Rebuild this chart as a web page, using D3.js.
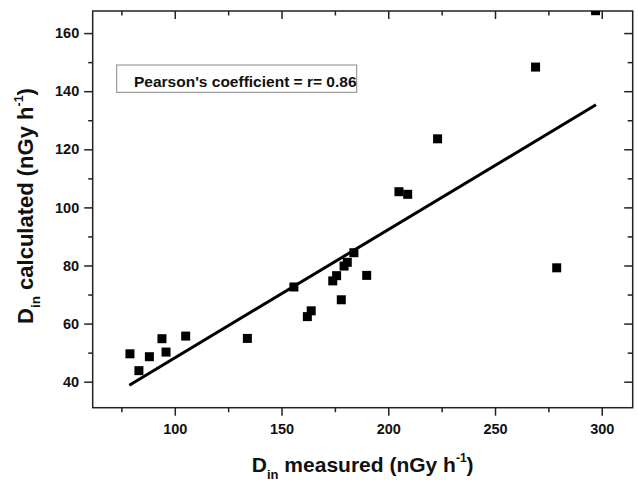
<!DOCTYPE html>
<html>
<head>
<meta charset="utf-8">
<script src="https://cdn.jsdelivr.net/npm/d3@7"></script>
<style>
  html, body { margin: 0; padding: 0; background: #fff; }
  svg { display: block; }
  text { font-family: Arial, "Liberation Sans", sans-serif; font-weight: bold; fill: #111; }
</style>
</head>
<body>
<svg id="chart" width="638" height="480"></svg>
<script>
// ---- data ----
const xMeasured   = [79.0, 83.2, 88.1, 94.0, 95.9, 105.1, 134.0, 155.8, 162.1, 163.9, 174.0, 175.8, 179.3, 180.8, 183.9, 178.0, 189.9, 205.0, 209.1, 223.1, 278.9, 269.0, 297.1];
const yCalculated = [49.6, 43.8, 48.6, 54.8, 50.2, 55.7, 54.9, 72.6, 62.4, 64.4, 74.7, 76.5, 79.8, 81.1, 84.4, 68.2, 76.6, 105.4, 104.5, 123.6, 79.2, 148.3, 167.7];
const fitX = [78.7, 297.3];
const fitY = [38.8, 135.3];
const xTicks = [100, 150, 200, 250, 300];
const xMinorTicks = [75, 125, 175, 225, 275];
const yTicks = [40, 60, 80, 100, 120, 140, 160];
const yMinorTicks = [50, 70, 90, 110, 130, 150];
const annotation = "Pearson's coefficient = r= 0.86";

// ---- layout ----
const L = 92.7, R = 632.7, T = 11, B = 407.7;
const x = d3.scaleLinear().domain([61.55, 314.5]).range([L, R]);
const y = d3.scaleLinear().domain([31.05, 167.6]).range([B, T]);

const svg = d3.select("#chart");

svg.append("defs").append("clipPath").attr("id", "plotclip")
  .append("rect").attr("x", L).attr("y", T).attr("width", R - L).attr("height", B - T);

function styleAxis(g) {
  g.select(".domain").remove();
  g.selectAll(".tick line").attr("stroke", "#222").attr("stroke-width", 1.5);
}

// bottom axis (outward ticks, labels)
svg.append("g").attr("transform", `translate(0,${B})`)
  .call(d3.axisBottom(x).tickValues(xTicks).tickSize(8).tickPadding(8).tickFormat(d3.format("d")))
  .call(styleAxis)
  .call(g => g.selectAll("text").attr("font-size", 14.5).attr("font-family", "Arial, 'Liberation Sans', sans-serif").attr("font-weight", "bold").attr("fill", "#111"));
svg.append("g").attr("transform", `translate(0,${B})`)
  .call(d3.axisBottom(x).tickValues(xMinorTicks).tickSize(4.5).tickFormat(""))
  .call(styleAxis);

// top axis (inward ticks)
svg.append("g").attr("transform", `translate(0,${T})`)
  .call(d3.axisTop(x).tickValues(xTicks).tickSize(-8).tickFormat(""))
  .call(styleAxis);
svg.append("g").attr("transform", `translate(0,${T})`)
  .call(d3.axisTop(x).tickValues(xMinorTicks).tickSize(-4.5).tickFormat(""))
  .call(styleAxis);

// left axis (outward ticks, labels)
svg.append("g").attr("transform", `translate(${L},0)`)
  .call(d3.axisLeft(y).tickValues(yTicks).tickSize(8.5).tickPadding(5).tickFormat(d3.format("d")))
  .call(styleAxis)
  .call(g => g.selectAll("text").attr("font-size", 14.5).attr("font-family", "Arial, 'Liberation Sans', sans-serif").attr("font-weight", "bold").attr("fill", "#111"));
svg.append("g").attr("transform", `translate(${L},0)`)
  .call(d3.axisLeft(y).tickValues(yMinorTicks).tickSize(4.5).tickFormat(""))
  .call(styleAxis);

// right axis (inward ticks)
svg.append("g").attr("transform", `translate(${R},0)`)
  .call(d3.axisRight(y).tickValues(yTicks).tickSize(-8.5).tickFormat(""))
  .call(styleAxis);
svg.append("g").attr("transform", `translate(${R},0)`)
  .call(d3.axisRight(y).tickValues(yMinorTicks).tickSize(-5).tickFormat(""))
  .call(styleAxis);

// frame
svg.append("rect").attr("x", L).attr("y", T).attr("width", R - L).attr("height", B - T)
  .attr("fill", "none").attr("stroke", "#222").attr("stroke-width", 1.5);

// fit line
const plot = svg.append("g").attr("clip-path", "url(#plotclip)");
plot.append("path")
  .datum(fitX.map((v, i) => [v, fitY[i]]))
  .attr("d", d3.line().x(d => x(d[0])).y(d => y(d[1])))
  .attr("fill", "none").attr("stroke", "#000").attr("stroke-width", 3);

// points
const ms = 9;
plot.selectAll("rect.pt").data(xMeasured.map((v, i) => [v, yCalculated[i]]))
  .join("rect").attr("class", "pt")
  .attr("x", d => x(d[0]) - ms / 2).attr("y", d => y(d[1]) - ms / 2)
  .attr("width", ms).attr("height", ms).attr("fill", "#000");

// annotation box
svg.append("rect").attr("x", 116.7).attr("y", 65).attr("width", 240).attr("height", 27.3)
  .attr("fill", "#fff").attr("stroke", "#888").attr("stroke-width", 1);
svg.append("text").attr("x", 134).attr("y", 86.5).attr("font-size", 15.5).text(annotation);

// x title
const xt = svg.append("text").attr("x", 362.7).attr("y", 471.5).attr("text-anchor", "middle").attr("font-size", 21);
xt.append("tspan").text("D");
xt.append("tspan").attr("font-size", 13).attr("dy", 7).text("in");
xt.append("tspan").attr("dy", -7).text(" measured (nGy h");
xt.append("tspan").attr("font-size", 12).attr("dy", -10).text("-1");
xt.append("tspan").attr("dy", 10).text(")");

// y title
const yt = svg.append("text").attr("transform", `translate(33,206) rotate(-90)`)
  .attr("text-anchor", "middle").attr("font-size", 22);
yt.append("tspan").text("D");
yt.append("tspan").attr("font-size", 13.5).attr("dy", 7).text("in");
yt.append("tspan").attr("dy", -7).text(" calculated (nGy h");
yt.append("tspan").attr("font-size", 12.5).attr("dy", -10).text("-1");
yt.append("tspan").attr("dy", 10).text(")");
</script>
</body>
</html>
